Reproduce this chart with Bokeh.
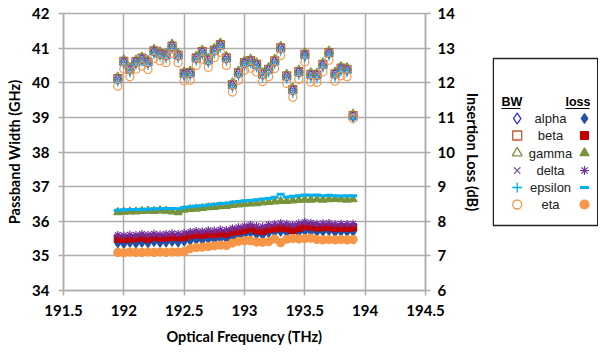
from bokeh.plotting import figure
from bokeh.models import Range1d, LinearAxis, FixedTicker, NumeralTickFormatter, ColumnDataSource
from bokeh.layouts import row
from bokeh.core.properties import value
from bokeh.embed import file_html
from bokeh.resources import INLINE

freq = [191.95, 192.00, 192.05, 192.10, 192.15, 192.20, 192.25, 192.30, 192.35, 192.40,
        192.45, 192.50, 192.55, 192.60, 192.65, 192.70, 192.75, 192.80, 192.85, 192.90,
        192.95, 193.00, 193.05, 193.10, 193.15, 193.20, 193.25, 193.30, 193.35, 193.40,
        193.45, 193.50, 193.55, 193.60, 193.65, 193.70, 193.75, 193.80, 193.85, 193.90]

series_names = ["alpha", "beta", "gamma", "delta", "epsilon", "eta"]

bw_alpha = [40.10, 40.60, 40.37, 40.59, 40.68, 40.58, 40.90, 40.83, 40.78, 41.05,
            40.78, 40.25, 40.27, 40.70, 40.88, 40.64, 40.92, 41.08, 40.70, 39.93,
            40.27, 40.56, 40.62, 40.51, 40.23, 40.37, 40.61, 40.99, 40.18, 39.78,
            40.30, 40.80, 40.22, 40.21, 40.51, 40.85, 40.24, 40.40, 40.37, 39.03]
bw_beta = [40.12, 40.62, 40.39, 40.61, 40.71, 40.60, 40.92, 40.84, 40.80, 41.06,
           40.80, 40.27, 40.29, 40.72, 40.90, 40.66, 40.94, 41.10, 40.72, 39.95,
           40.29, 40.58, 40.64, 40.53, 40.25, 40.39, 40.63, 41.01, 40.20, 39.80,
           40.32, 40.82, 40.24, 40.23, 40.53, 40.87, 40.26, 40.42, 40.39, 39.05]
bw_gamma = [40.16, 40.66, 40.43, 40.65, 40.74, 40.64, 40.96, 40.89, 40.84, 41.11,
            40.84, 40.31, 40.33, 40.76, 40.94, 40.70, 40.98, 41.14, 40.76, 39.99,
            40.33, 40.62, 40.68, 40.57, 40.29, 40.43, 40.67, 41.05, 40.24, 39.84,
            40.36, 40.86, 40.28, 40.27, 40.57, 40.91, 40.30, 40.46, 40.43, 39.09]
bw_delta = [40.14, 40.64, 40.41, 40.63, 40.72, 40.62, 40.94, 40.87, 40.82, 41.09,
            40.82, 40.29, 40.31, 40.74, 40.92, 40.68, 40.96, 41.12, 40.74, 39.97,
            40.31, 40.60, 40.66, 40.55, 40.27, 40.41, 40.65, 41.03, 40.22, 39.82,
            40.34, 40.84, 40.26, 40.25, 40.55, 40.89, 40.28, 40.44, 40.41, 39.07]
bw_epsilon = [40.02, 40.52, 40.29, 40.51, 40.60, 40.50, 40.82, 40.75, 40.70, 40.97,
              40.70, 40.17, 40.19, 40.62, 40.80, 40.56, 40.84, 41.00, 40.62, 39.85,
              40.19, 40.48, 40.54, 40.43, 40.15, 40.29, 40.53, 40.91, 40.10, 39.70,
              40.22, 40.72, 40.14, 40.13, 40.43, 40.77, 40.16, 40.32, 40.29, 38.95]
bw_eta = [39.90, 40.40, 40.17, 40.39, 40.48, 40.38, 40.70, 40.63, 40.58, 40.85,
          40.58, 40.05, 40.07, 40.50, 40.68, 40.44, 40.72, 40.88, 40.50, 39.73,
          40.07, 40.36, 40.42, 40.31, 40.03, 40.17, 40.41, 40.79, 39.98, 39.58,
          40.10, 40.60, 40.02, 40.01, 40.31, 40.65, 40.04, 40.20, 40.17, 38.97]

loss_alpha = [7.37, 7.35, 7.38, 7.36, 7.38, 7.37, 7.40, 7.38, 7.39, 7.41,
              7.39, 7.42, 7.44, 7.46, 7.45, 7.48, 7.47, 7.50, 7.49, 7.53,
              7.56, 7.60, 7.66, 7.62, 7.60, 7.66, 7.68, 7.70, 7.67, 7.56,
              7.68, 7.71, 7.70, 7.69, 7.70, 7.72, 7.68, 7.70, 7.69, 7.70]
loss_beta = [7.50, 7.49, 7.50, 7.51, 7.53, 7.50, 7.55, 7.52, 7.53, 7.55,
             7.54, 7.55, 7.60, 7.62, 7.61, 7.64, 7.63, 7.66, 7.64, 7.70,
             7.72, 7.75, 7.80, 7.74, 7.72, 7.78, 7.80, 7.82, 7.80, 7.75,
             7.81, 7.86, 7.85, 7.82, 7.83, 7.84, 7.80, 7.82, 7.81, 7.82]
loss_gamma = [8.26, 8.27, 8.28, 8.28, 8.29, 8.30, 8.29, 8.31, 8.30, 8.28,
              8.26, 8.33, 8.35, 8.36, 8.38, 8.40, 8.41, 8.43, 8.44, 8.47,
              8.48, 8.50, 8.51, 8.52, 8.54, 8.55, 8.57, 8.58, 8.58, 8.60,
              8.61, 8.62, 8.62, 8.63, 8.62, 8.63, 8.64, 8.63, 8.62, 8.63]
loss_delta = [7.60, 7.59, 7.61, 7.60, 7.63, 7.61, 7.64, 7.62, 7.63, 7.65,
              7.64, 7.66, 7.70, 7.72, 7.71, 7.74, 7.73, 7.76, 7.75, 7.80,
              7.83, 7.86, 7.90, 7.86, 7.85, 7.90, 7.92, 7.95, 7.93, 7.90,
              7.94, 7.98, 7.96, 7.93, 7.94, 7.95, 7.92, 7.93, 7.92, 7.93]
loss_epsilon = [8.32, 8.33, 8.34, 8.34, 8.35, 8.35, 8.36, 8.36, 8.37, 8.37,
                8.36, 8.40, 8.42, 8.44, 8.45, 8.47, 8.49, 8.51, 8.52, 8.55,
                8.57, 8.59, 8.60, 8.62, 8.64, 8.66, 8.69, 8.78, 8.70, 8.72,
                8.74, 8.76, 8.75, 8.76, 8.74, 8.75, 8.74, 8.73, 8.74, 8.74]
loss_eta = [7.10, 7.09, 7.11, 7.10, 7.10, 7.11, 7.10, 7.11, 7.10, 7.11,
            7.11, 7.12, 7.21, 7.24, 7.25, 7.27, 7.29, 7.31, 7.30, 7.37,
            7.42, 7.44, 7.44, 7.40, 7.39, 7.41, 7.49, 7.38, 7.48, 7.50,
            7.49, 7.50, 7.51, 7.47, 7.46, 7.47, 7.46, 7.47, 7.46, 7.47]

x_ticks = [191.5, 192.0, 192.5, 193.0, 193.5, 194.0, 194.5]
y_ticks_bw = [34, 35, 36, 37, 38, 39, 40, 41, 42]
y_ticks_loss = [6, 7, 8, 9, 10, 11, 12, 13, 14]

bw_data = [bw_alpha, bw_beta, bw_gamma, bw_delta, bw_epsilon, bw_eta]
loss_data = [loss_alpha, loss_beta, loss_gamma, loss_delta, loss_epsilon, loss_eta]

bw_style = [("diamond", "#1a1aff", 10), ("square", "#C8552E", 8), ("triangle", "#77933C", 9),
            ("x", "#8064A2", 8), ("cross", "#00B0F0", 9), ("circle", "#F79646", 8)]
loss_style = [("diamond", "#2350A8", 9), ("square", "#C00000", 7), ("triangle", "#77933C", 8),
              ("asterisk", "#7030A0", 8), ("dash", "#00B0F0", 8), ("circle", "#F79646", 8)]

FONT = "Lato"
GRID = "#ADADAD"
H = 350
TOP = 13
FH = 277
BOT = H - TOP - FH

p = figure(width=492, height=H, x_range=Range1d(191.5, 194.5), y_range=Range1d(34, 42),
           output_backend="svg", toolbar_location=None,
           min_border_left=63, min_border_right=67, min_border_top=TOP, min_border_bottom=BOT)
p.extra_y_ranges = {"loss": Range1d(6, 14)}
p.background_fill_color = "white"
p.border_fill_color = "white"
p.outline_line_color = GRID
p.outline_line_width = 1.5

p.xaxis.ticker = FixedTicker(ticks=x_ticks)
p.xaxis.formatter = NumeralTickFormatter(format="0.[0]")
p.yaxis.ticker = FixedTicker(ticks=y_ticks_bw)
p.xaxis.axis_label = "Optical Frequency (THz)"
p.yaxis.axis_label = "Passband Width (GHz)"

ax_r = LinearAxis(y_range_name="loss", ticker=FixedTicker(ticks=y_ticks_loss),
                  axis_label="Insertion Loss (dB)")
p.add_layout(ax_r, "right")

for ax in [p.xaxis[0], p.yaxis[0], ax_r]:
    ax.axis_line_color = GRID
    ax.axis_line_width = 1.5
    ax.major_tick_line_color = GRID
    ax.major_tick_line_width = 1.5
    ax.major_tick_in = 0
    ax.major_tick_out = 5
    ax.minor_tick_line_color = None
    ax.major_label_text_font = FONT
    ax.major_label_text_font_style = "bold"
    ax.major_label_text_font_size = "15px"
    ax.major_label_text_color = "black"
    ax.axis_label_text_font = FONT
    ax.axis_label_text_font_style = "bold"
    ax.axis_label_text_font_size = "14.5px"
    ax.axis_label_text_color = "black"
    ax.axis_label_standoff = 6

p.xaxis.major_label_standoff = 9
p.xaxis.axis_label_standoff = 9
p.yaxis.major_label_standoff = 9
ax_r.major_label_standoff = 7

p.xgrid.ticker = FixedTicker(ticks=x_ticks)
p.ygrid.ticker = FixedTicker(ticks=y_ticks_bw)
p.grid.grid_line_color = GRID
p.grid.grid_line_width = 1.5

for vals, (mk, col, sz) in zip(bw_data, bw_style):
    src = ColumnDataSource(dict(x=freq, y=vals))
    p.scatter("x", "y", source=src, marker=mk, size=sz, line_color=col, line_width=1.2,
              fill_alpha=0)

for vals, (mk, col, sz) in zip(loss_data, loss_style):
    src = ColumnDataSource(dict(x=freq, y=vals))
    lw = 3 if mk == "dash" else 1.2
    p.scatter("x", "y", source=src, marker=mk, size=sz, line_color=col, fill_color=col,
              line_width=lw, y_range_name="loss")

# legend panel: its frame is given the same vertical extent as the main frame,
# and its ranges are set so that one unit equals one pixel (y downward)
lg = figure(width=106, height=H, x_range=Range1d(0, 106), y_range=Range1d(TOP + FH, TOP),
            x_axis_type=None, y_axis_type=None,
            output_backend="svg", toolbar_location=None,
            min_border_left=0, min_border_right=0, min_border_top=TOP, min_border_bottom=BOT)
lg.grid.visible = False
lg.outline_line_color = None
lg.background_fill_color = "white"
lg.border_fill_color = "white"
lg.quad(left=[0.75], right=[105.25], top=[58], bottom=[225], fill_color="white",
        line_color="#202020", line_width=1.5)

rows_y = [118, 135, 152.5, 170, 187, 204]
lg.text(x=[9, 73], y=[101, 101], text=["BW", "loss"], text_font=value("Liberation Sans"),
        text_font_size="12.5px", text_font_style="bold", text_baseline="middle", text_align="left",
        text_color="black")
lg.segment(x0=[9, 73], y0=[108, 108], x1=[28, 97], y1=[108, 108], line_color="black", line_width=1)
lg.text(x=[58] * 6, y=rows_y, text=series_names, text_font=value("Liberation Sans"),
        text_font_size="13px", text_baseline="middle", text_align="center", text_color="#202020")
for yy, (mk, col, sz) in zip(rows_y, bw_style):
    lg.scatter([24.7], [yy], marker=mk, size=sz + 1, line_color=col, line_width=1.3, fill_alpha=0)
for yy, (mk, col, sz) in zip(rows_y, loss_style):
    lw = 3 if mk == "dash" else 1.2
    lg.scatter([92], [yy], marker=mk, size=sz + 1, line_color=col, fill_color=col, line_width=lw)

layout = row(p, lg)
open("out.html", "w").write(file_html(layout, INLINE))
